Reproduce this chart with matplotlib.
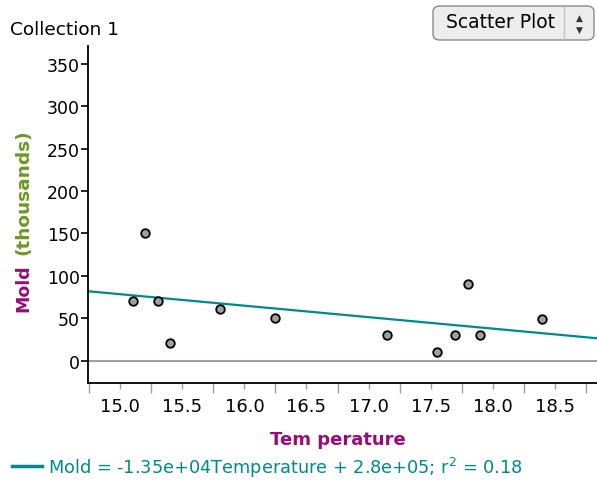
import matplotlib
matplotlib.use("Agg")
import matplotlib.pyplot as plt
from matplotlib.patches import FancyBboxPatch
import numpy as np

# data (mold in thousands)
temperature = [15.1, 15.2, 15.3, 15.4, 15.8, 16.25, 17.15, 17.55, 17.7, 17.8, 17.9, 18.4]
mold = [71, 150, 70, 21, 61, 50, 31, 10, 31, 90, 31, 49]
slope = -13.5      # thousands per degree
intercept = 281.0  # thousands
x_ticks = [15.0, 15.5, 16.0, 16.5, 17.0, 17.5, 18.0, 18.5]
y_ticks = [0, 50, 100, 150, 200, 250, 300, 350]

purple = "#990a7a"
green = "#6b9a1f"
teal = "#008b8b"

plt.rcParams["font.family"] = ["DejaVu Sans"]

fig = plt.figure(figsize=(5.97, 4.85), dpi=100)
ax = fig.add_axes([88 / 597, 1 - 384 / 485, 1 - 88 / 597, (384 - 46.7) / 485])

xlim = (14.74, 18.84)
ax.set_xlim(*xlim)
ax.set_ylim(-26, 371)

# zero line
ax.axhline(0, color="#a0a0a0", lw=1.5, zorder=1)

# least squares line from the equation shown
xs = np.array(xlim)
ax.plot(xs, slope * xs + intercept, color=teal, lw=1.6, zorder=2)

ax.scatter(temperature, mold, s=38, facecolor="#a0a0a0", edgecolor="black",
           linewidth=1.3, zorder=3)

for s in ["top", "right"]:
    ax.spines[s].set_visible(False)
ax.spines["left"].set_linewidth(1.3)
ax.spines["bottom"].set_linewidth(1.3)

ax.set_yticks(y_ticks)
ax.set_yticklabels([str(v) for v in y_ticks], fontsize=12.5)
ax.tick_params(axis="y", length=5, width=1.2, direction="out", pad=1)

ax.set_xticks(x_ticks)
ax.set_xticklabels([f"{v:.1f}" for v in x_ticks], fontsize=13)
ax.set_xticks(np.arange(14.75, 18.8, 0.5), minor=True)
ax.tick_params(axis="x", which="major", length=4, width=1, color="#a0a0a0", pad=6)
ax.tick_params(axis="x", which="minor", length=7, width=1, color="#a0a0a0")

# axis labels
fig.text(338 / 597, 1 - 440 / 485, "Tem perature", color=purple, fontsize=13,
         fontweight="bold", ha="center", va="center")
fig.text(23 / 597, 1 - 288 / 485, "Mold", color=purple, fontsize=12.5,
         fontweight="bold", rotation=90, ha="center", va="center")
fig.text(23 / 597, 1 - 192 / 485, "(thousands)", color=green, fontsize=13.3,
         fontweight="bold", rotation=90, ha="center", va="center")

# title
fig.text(10 / 597, 1 - 30 / 485, "Collection 1", fontsize=13.3, ha="left", va="center")

# equation legend
fig.add_artist(plt.Line2D([12 / 597, 42 / 597], [1 - 467 / 485, 1 - 467 / 485],
                          color=teal, lw=2.5))
fig.text(48 / 597, 1 - 468 / 485,
         "Mold = -1.35e+04Temperature + 2.8e+05; r$^{2}$ = 0.18",
         color=teal, fontsize=12.8, ha="left", va="center")

# "Scatter Plot" popup button
btn = FancyBboxPatch((433 / 597, 1 - 41 / 485), 161 / 597, 34 / 485,
                     boxstyle="round,pad=0,rounding_size=0.012",
                     transform=fig.transFigure, facecolor="#ededed",
                     edgecolor="#8a8a8a", lw=1)
fig.add_artist(btn)
fig.add_artist(plt.Line2D([564 / 597, 564 / 597], [1 - 40 / 485, 1 - 8 / 485],
                          color="#c4c4c4", lw=1))
fig.text(501 / 597, 1 - 23 / 485, "Scatter Plot", fontsize=13.5, ha="center", va="center")
fig.text(579 / 597, 1 - 18 / 485, "\u25b2", fontsize=6.5, ha="center", va="center", color="#333333")
fig.text(579 / 597, 1 - 30 / 485, "\u25bc", fontsize=6.5, ha="center", va="center", color="#333333")

fig.savefig("out.png", dpi=100)
